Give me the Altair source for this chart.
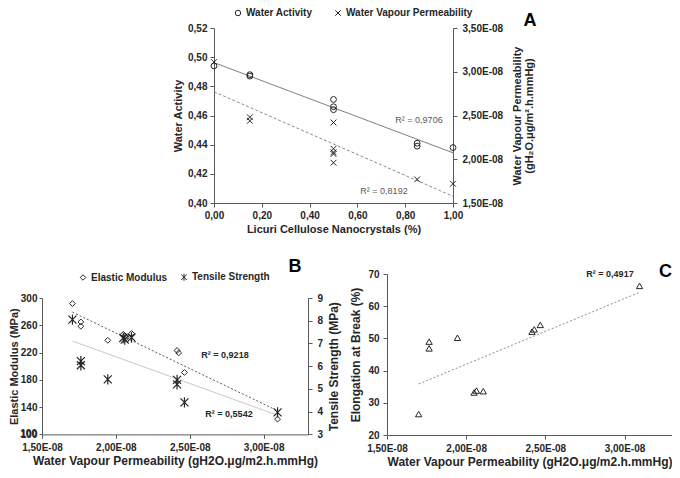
import altair as alt
import pandas as pd

# ---------------- data ----------------
# Panel A: Licuri cellulose nanocrystals (%) vs water activity and WVP
nc_wa = [0.00, 0.15, 0.15, 0.50, 0.50, 0.50, 0.85, 0.85, 1.00]
water_activity = [0.494, 0.488, 0.487, 0.471, 0.466, 0.464, 0.441, 0.439, 0.438]
nc_wvp = [0.00, 0.15, 0.15, 0.50, 0.50, 0.50, 0.50, 0.50, 0.85, 1.00]
wvp_a = [3.11, 2.48, 2.44, 2.42, 2.12, 2.08, 2.06, 1.96, 1.77, 1.72]  # x 1E-08

# Panel B: WVP (x 1E-08) vs elastic modulus and tensile strength
wvp_em = [1.706, 1.763, 1.763, 1.945, 2.050, 2.060, 2.070, 2.106, 2.414, 2.425, 2.464, 3.094]
elastic_modulus = [291.8, 264.9, 258.5, 238.0, 246.8, 244.3, 242.0, 247.9, 223.0, 219.5, 190.8, 122.4]
wvp_ts = [1.706, 1.763, 1.763, 1.945, 2.050, 2.060, 2.106, 2.414, 2.414, 2.464, 3.094]
tensile_strength = [8.05, 6.22, 6.04, 5.42, 7.24, 7.17, 7.26, 5.40, 5.20, 4.41, 3.97]

# Panel C: WVP (x 1E-08) vs elongation at break
wvp_eb = [1.700, 1.766, 1.766, 1.945, 2.050, 2.065, 2.108, 2.416, 2.430, 2.468, 3.095]
elongation = [26.5, 49.0, 46.9, 50.2, 33.2, 33.8, 33.6, 52.1, 52.8, 54.2, 66.3]

series_a = ["Water Activity", "Water Vapour Permeability"]
series_b = ["Elastic Modulus", "Tensile Strength"]
r2_labels = ["R² = 0,9706", "R² = 0,8192", "R² = 0,9218", "R² = 0,5542", "R² = 0,4917"]
panel_letters = ["A", "B", "C"]

ticks_a_x = [0.0, 0.2, 0.4, 0.6, 0.8, 1.0]
ticks_a_left = [0.40, 0.42, 0.44, 0.46, 0.48, 0.50, 0.52]
ticks_a_right = [1.5, 2.0, 2.5, 3.0, 3.5]
ticks_wvp = [1.5, 2.0, 2.5, 3.0]
ticks_b_left = [100, 140, 180, 220, 260, 300]
ticks_b_right = [3, 4, 5, 6, 7, 8, 9]
ticks_c = [20, 30, 40, 50, 60, 70]

# ---------------- style / layout ----------------
FONT = "Liberation Sans"
INK = "#262626"
AXC = "#595959"
W, H = 664, 462

A_X = [206, 445]; A_Y = [195, 20]
B_X = [34, 300]; B_Y = [426.4, 290]
C_X = [379, 664]; C_Y = [427, 266]

X_PATH = "M-1,-1L1,1M-1,1L1,-1"
STAR_PATH = "M-1,-1L1,1M-1,1L1,-1M0,-1.3L0,1.3"

COMMA2 = "replace(format(datum.value, '.2f'), '.', ',')"
E08 = COMMA2 + " + 'E-08'"
INT = "format(datum.value, 'd')"


def axis(orient, offset, values, expr, title, title_size=12, label_size=10,
         title_pad=4, label_pad=3, title_angle=None, title_baseline=None, tick=4):
    kw = dict(orient=orient, offset=offset, values=values, labelExpr=expr, title=title,
              grid=False, labelFlush=False, labelOverlap=False, labelBound=False,
              domainColor=AXC, tickColor=AXC, tickSize=tick, domainWidth=1, tickWidth=1,
              labelFont=FONT, labelFontSize=label_size, labelFontWeight="bold",
              labelColor=INK, labelPadding=label_pad,
              titleFont=FONT, titleFontSize=title_size, titleFontWeight="bold",
              titleColor=INK, titlePadding=title_pad, titleLineHeight=12)
    if title_angle is not None:
        kw["titleAngle"] = title_angle
    if title_baseline is not None:
        kw["titleBaseline"] = title_baseline
    return alt.Axis(**kw)


def sc(domain, rng):
    return alt.Scale(domain=domain, range=rng, nice=False, zero=False)


def legend(x, y, pad):
    return alt.Legend(orient="none", legendX=x, legendY=y, direction="horizontal", title=None,
                      labelFont=FONT, labelFontSize=10, labelFontWeight="bold", labelColor=INK,
                      symbolSize=30, symbolStrokeWidth=1, symbolStrokeColor=INK,
                      columnPadding=pad, labelOffset=3, padding=0)


def trend(df, xs, ys, color, dash=None, width=1.0):
    mk = dict(color=color, strokeWidth=width)
    if dash:
        mk["strokeDash"] = dash
    return alt.Chart(df).transform_regression("x", "y").mark_line(**mk).encode(
        x=alt.X("x:Q", scale=xs, axis=None),
        y=alt.Y("y:Q", scale=ys, axis=None))


def points(df, xs, ys, xax, yax, shape_scale, leg, size, sw=1.0):
    return alt.Chart(df).mark_point(filled=False, color=INK, size=size, strokeWidth=sw,
                                    opacity=1).encode(
        x=alt.X("x:Q", scale=xs, axis=xax),
        y=alt.Y("y:Q", scale=ys, axis=yax),
        shape=alt.Shape("s:N", scale=shape_scale, legend=leg))


def label(text, x, y, size, weight, color, align="center", baseline="middle"):
    return alt.Chart(pd.DataFrame({"t": [text]})).mark_text(
        font=FONT, fontSize=size, fontWeight=weight, color=color,
        align=align, baseline=baseline).encode(
        x=alt.value(x), y=alt.value(y), text="t:N")


# ---------------- frames ----------------
df_wa = pd.DataFrame({"x": nc_wa, "y": water_activity, "s": series_a[0]})
df_wvp = pd.DataFrame({"x": nc_wvp, "y": wvp_a, "s": series_a[1]})
df_em = pd.DataFrame({"x": wvp_em, "y": elastic_modulus, "s": series_b[0]})
df_ts = pd.DataFrame({"x": wvp_ts, "y": tensile_strength, "s": series_b[1]})
df_eb = pd.DataFrame({"x": wvp_eb, "y": elongation, "s": "Elongation at Break"})

# ---------------- scales ----------------
xa = sc([0, 1], A_X); ya_l = sc([0.40, 0.52], A_Y); ya_r = sc([1.5, 3.5], A_Y)
xb = sc([1.5, 3.3], B_X); yb_l = sc([100, 300], B_Y); yb_r = sc([3, 9], B_Y)
xc = sc([1.5, 3.3], C_X); yc = sc([20, 70], C_Y)

shape_a = alt.Scale(domain=series_a, range=["circle", X_PATH])
shape_b = alt.Scale(domain=series_b, range=["diamond", STAR_PATH])
shape_c = alt.Scale(domain=["Elongation at Break"], range=["triangle-up"])

WVP_TITLE = "Water Vapour Permeability (gH2O.μg/m2.h.mmHg)"

layers = [
    # Panel A
    trend(df_wa, xa, ya_l, "#7f7f7f"),
    trend(df_wvp, xa, ya_r, "#8c8c8c", dash=[3, 2]),
    points(df_wa, xa, ya_l,
           axis("bottom", A_Y[0] - H, ticks_a_x, COMMA2, "Licuri Cellulose Nanocrystals (%)",
                title_size=11, label_pad=3, title_pad=3),
           axis("left", -A_X[0], ticks_a_left, COMMA2, "Water Activity",
                title_size=11, label_pad=3, title_pad=4),
           shape_a, legend(225, 0, 20), 34),
    points(df_wvp, xa, ya_r, None,
           axis("right", A_X[1] - W, ticks_a_right, E08,
                ["Water Vapour Permeability", "(gH₂O.μg/m².h.mmHg)"],
                title_size=11, label_pad=5, title_pad=-3, title_angle=270, title_baseline="top"),
           shape_a, None, 34),
    # Panel B
    trend(df_em, xb, yb_l, "#595959", dash=[2, 2]),
    trend(df_ts, xb, yb_r, "#c8c8c8"),
    points(df_em, xb, yb_l,
           axis("bottom", B_Y[0] - H, ticks_wvp, E08, WVP_TITLE, label_pad=4, title_pad=3),
           axis("left", -B_X[0], ticks_b_left, INT, "Elastic Modulus (MPa)",
                title_size=11, label_pad=2, title_pad=1, tick=3),
           shape_b, legend(70, 264, 11), 34),
    points(df_ts, xb, yb_r, None,
           axis("right", B_X[1] - W, ticks_b_right, INT, "Tensile Strength (MPa)",
                label_pad=5, title_pad=6, title_angle=270, title_baseline="top"),
           shape_b, None, 64, sw=1.2),
    # lowest label of the elastic-modulus axis (dropped by the axis renderer)
    label(str(ticks_b_left[0]), B_X[0] - 5, B_Y[0], 10, "bold", INK, align="right"),
    # Panel C
    trend(df_eb, xc, yc, "#8c8c8c", dash=[2, 2]),
    points(df_eb, xc, yc,
           axis("bottom", C_Y[0] - H, ticks_wvp, E08, WVP_TITLE, label_pad=4, title_pad=3),
           axis("left", -C_X[0], ticks_c, INT, "Elongation at Break (%)",
                label_pad=4, title_pad=5),
           shape_c, None, 40),
    # R² annotations
    label(r2_labels[0], 411, 112, 9, "normal", "#595959"),
    label(r2_labels[1], 376, 183, 9, "normal", "#595959"),
    label(r2_labels[2], 217, 347, 9, "bold", INK),
    label(r2_labels[3], 221, 406, 9, "bold", INK),
    label(r2_labels[4], 602, 266, 9, "bold", INK),
    # panel letters
    label(panel_letters[0], 522, 18, 18, "bold", "#000000", baseline="alphabetic"),
    label(panel_letters[1], 287, 264, 18, "bold", "#000000", baseline="alphabetic"),
    label(panel_letters[2], 664, 269, 18, "bold", "#000000", align="right", baseline="alphabetic"),
]

chart = alt.layer(*layers).resolve_scale(
    x="independent", y="independent", shape="independent"
).properties(
    width=W, height=H, padding=0,
    autosize=alt.AutoSizeParams(type="none"),
    background="white",
).configure_view(stroke=None)

chart.save("out.html", embed_options={"renderer": "svg", "actions": False})
